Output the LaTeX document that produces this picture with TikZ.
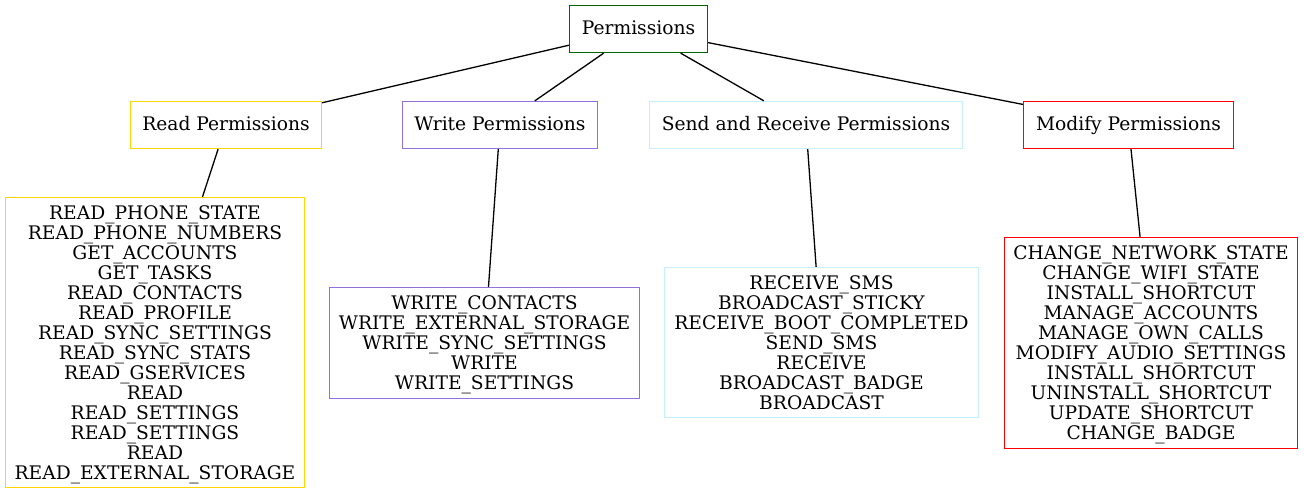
\documentclass[tikz,border=0pt]{standalone}
\usepackage{fontspec}
\setmainfont{DejaVu Serif}
\definecolor{cgreen}{RGB}{0,100,0}
\definecolor{cgold}{RGB}{255,215,0}
\definecolor{cpurple}{RGB}{147,112,219}
\definecolor{ccyan}{RGB}{198,240,252}
\definecolor{cred}{RGB}{255,0,0}
\begin{document}
\begin{tikzpicture}[x=1pt,y=-1pt,
  box/.style={draw,line width=1.3pt,inner sep=0pt,align=center,fill=white,
    font=\fontsize{18.67}{20}\selectfont},
  head/.style={box,minimum height=47pt,text height=15pt,text depth=4pt},
  list/.style={box,text depth=0pt},
  link/.style={line width=1.3pt,black}]
\useasboundingbox (0,0) rectangle (1304,493);
\node[head,draw=cgreen,minimum width=138pt] (perm) at (638.5,29) {Permissions};
\node[head,draw=cgold,minimum width=191pt] (read) at (226,125) {Read Permissions};
\node[head,draw=cpurple,minimum width=195pt] (write) at (500,125) {Write Permissions};
\node[head,draw=ccyan,minimum width=313pt] (send) at (806,125) {Send and Receive Permissions};
\node[head,draw=cred,minimum width=210pt] (mod) at (1128.5,125) {Modify Permissions};
\node[list,draw=cgold,minimum width=299pt,minimum height=290pt] (readL) at (155,342.5) {READ\_PHONE\_STATE\\READ\_PHONE\_NUMBERS\\GET\_ACCOUNTS\\GET\_TASKS\\READ\_CONTACTS\\READ\_PROFILE\\READ\_SYNC\_SETTINGS\\READ\_SYNC\_STATS\\READ\_GSERVICES\\READ\\READ\_SETTINGS\\READ\_SETTINGS\\READ\\READ\_EXTERNAL\_STORAGE};
\node[list,draw=cpurple,minimum width=310pt,minimum height=111pt] (writeL) at (484.5,343) {WRITE\_CONTACTS\\WRITE\_EXTERNAL\_STORAGE\\WRITE\_SYNC\_SETTINGS\\WRITE\\WRITE\_SETTINGS};
\node[list,draw=ccyan,minimum width=314pt,minimum height=150pt] (sendL) at (821.5,342.5) {RECEIVE\_SMS\\BROADCAST\_STICKY\\RECEIVE\_BOOT\_COMPLETED\\SEND\_SMS\\RECEIVE\\BROADCAST\_BADGE\\BROADCAST};
\node[list,draw=cred,minimum width=293pt,minimum height=211pt] (modL) at (1151,343) {CHANGE\_NETWORK\_STATE\\CHANGE\_WIFI\_STATE\\INSTALL\_SHORTCUT\\MANAGE\_ACCOUNTS\\MANAGE\_OWN\_CALLS\\MODIFY\_AUDIO\_SETTINGS\\INSTALL\_SHORTCUT\\UNINSTALL\_SHORTCUT\\UPDATE\_SHORTCUT\\CHANGE\_BADGE};
\draw[link] (perm) -- (read);
\draw[link] (perm) -- (write);
\draw[link] (perm) -- (send);
\draw[link] (perm) -- (mod);
\draw[link] (read) -- (readL);
\draw[link] (write) -- (writeL);
\draw[link] (send) -- (sendL);
\draw[link] (mod) -- (modL);
\end{tikzpicture}
\end{document}
